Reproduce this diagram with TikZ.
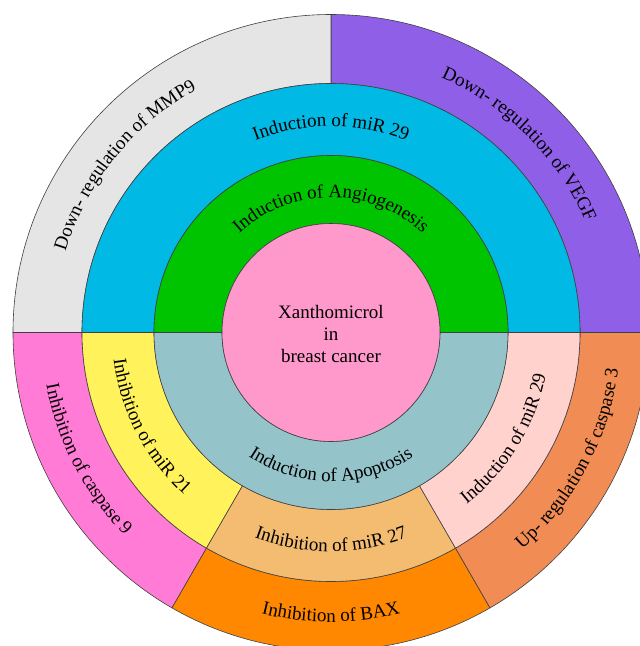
\documentclass[tikz,border=0pt]{standalone}
\usepackage{fontspec}
\setmainfont{Liberation Serif}
\usetikzlibrary{decorations.text}

\definecolor{mmpgrey}{HTML}{E5E5E5}
\definecolor{vegfpurple}{HTML}{8F5FE8}
\definecolor{mircyan}{HTML}{00B9E4}
\definecolor{angiogreen}{HTML}{00C400}
\definecolor{xanthopink}{HTML}{FF99CC}
\definecolor{apoteal}{HTML}{94C4CA}
\definecolor{mirtwentyone}{HTML}{FFF25A}
\definecolor{mirtwentyseven}{HTML}{F4BC70}
\definecolor{mirtwentynine}{HTML}{FFD2CE}
\definecolor{caspninepink}{HTML}{FF7BD6}
\definecolor{baxorange}{HTML}{FF8800}
\definecolor{caspthree}{HTML}{F08C54}

\newcommand\labelfont{\fontsize{19pt}{22pt}\selectfont}
% colour, start angle, end angle, inner radius, outer radius
\newcommand\ringpart[5]{%
  \path[ring edge, fill=#1] (#2:#4pt) arc[start angle=#2, end angle=#3, radius=#4pt]
    -- (#3:#5pt) arc[start angle=#3, end angle=#2, radius=#5pt] -- cycle;}

\begin{document}
\begin{tikzpicture}[ring edge/.style={draw=black!75, line width=0.6pt},
    arc text/.style={decorate, decoration={text along path, text align=center, text={|\labelfont|#1}}}]
    \clip (-331pt,-313.5pt) rectangle (309pt,332.5pt);
    \coordinate (c) at (0,0);

    \ringpart{vegfpurple}{0}{90}{249}{318}
    \ringpart{mmpgrey}{90}{180}{249}{318}
    \ringpart{caspninepink}{180}{240}{249}{318}
    \ringpart{baxorange}{240}{300}{249}{318}
    \ringpart{caspthree}{300}{360}{249}{318}

    \ringpart{mircyan}{0}{180}{177}{249}
    \ringpart{mirtwentyone}{180}{240}{177}{249}
    \ringpart{mirtwentyseven}{240}{300}{177}{249}
    \ringpart{mirtwentynine}{300}{360}{177}{249}

    \ringpart{angiogreen}{0}{180}{109}{177}
    \ringpart{apoteal}{180}{360}{109}{177}

    \path[ring edge, fill=xanthopink] (c) circle[radius=109pt];
    \node[align=center, font=\labelfont] (xantho) at (0,-1pt) {Xanthomicrol\\in\\breast cancer};

    \path[arc text={Down- regulation of MMP9}] (201:277.5pt) arc[start angle=201, end angle=81, radius=277.5pt];
    \path[arc text={Down- regulation of VEGF}] (105:277.5pt) arc[start angle=105, end angle=-15, radius=277.5pt];
    \path[arc text={Induction of miR 29}] (150:206pt) arc[start angle=150, end angle=30, radius=206pt];
    \path[arc text={Induction of Angiogenesis}] (150:135pt) arc[start angle=150, end angle=30, radius=135pt];

    \path[arc text={Induction of Apoptosis}] (210:149pt) arc[start angle=210, end angle=330, radius=149pt];
    \path[arc text={Inhibition of miR 27}] (210:219pt) arc[start angle=210, end angle=330, radius=219pt];
    \path[arc text={Inhibition of BAX}] (210:289.5pt) arc[start angle=210, end angle=330, radius=289.5pt];
    \path[arc text={Inhibition of miR 21}] (147.5:219pt) arc[start angle=147.5, end angle=267.5, radius=219pt];
    \path[arc text={Inhibition of caspase 9}] (147.5:289.5pt) arc[start angle=147.5, end angle=267.5, radius=289.5pt];
    \path[arc text={Induction of miR 29}] (268.5:219pt) arc[start angle=268.5, end angle=388.5, radius=219pt];
    \path[arc text={Up- regulation of caspase 3}] (272:289.5pt) arc[start angle=272, end angle=392, radius=289.5pt];
\end{tikzpicture}
\end{document}
